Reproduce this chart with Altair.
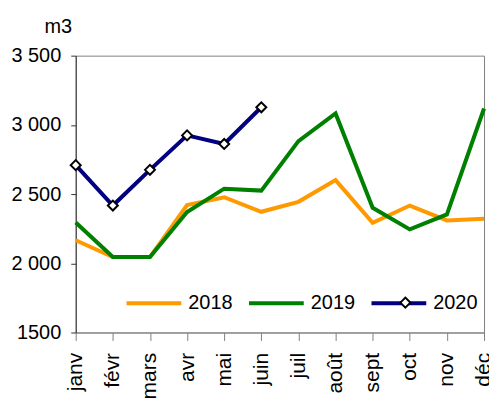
import altair as alt
import pandas as pd

months = ["janv", "févr", "mars", "avr", "mai", "juin", "juil", "août", "sept", "oct", "nov", "déc"]
v2018 = [2166, 2045, 2045, 2420, 2477, 2372, 2444, 2601, 2293, 2417, 2310, 2322]
v2019 = [2295, 2045, 2045, 2370, 2539, 2525, 2883, 3082, 2401, 2245, 2353, 3118]
v2020 = [2709, 2417, 2675, 2924, 2862, 3127]
years = ["2018", "2019", "2020"]
colors = ["#FF9900", "#008000", "#000080"]
y_ticks = [1500, 2000, 2500, 3000, 3500]
y_tick_labels = ["1500", "2 000", "2 500", "3 000", "3 500"]

rows = []
for yr, vals in zip(years, [v2018, v2019, v2020]):
    for m, v in zip(months, vals):
        rows.append({"mois": m, "annee": yr, "valeur": v})
df = pd.DataFrame(rows)

label_expr = "''"
for t, lab in zip(y_ticks, y_tick_labels):
    label_expr = f"datum.value == {t} ? '{lab}' : ({label_expr})"

FONT = "Liberation Sans"

x_enc = alt.X(
    "mois:N", sort=months,
    scale=alt.Scale(type="point", padding=0),
    axis=alt.Axis(title=None, labelAngle=270, labelAlign="right", labelBaseline="middle",
                  labelFontSize=21, labelFont=FONT, labelColor="black", labelPadding=12,
                  tickSize=8, tickColor="#808080", domainColor="#808080", grid=False),
)
y_enc = alt.Y(
    "valeur:Q",
    scale=alt.Scale(domain=[1500, 3500], nice=False, zero=False),
    axis=alt.Axis(values=y_ticks, labelExpr=label_expr, title="m3", titleAngle=0,
                  titleX=-18, titleY=-23, titleAlign="center", titleBaseline="alphabetic",
                  titleFontSize=20, titleFont=FONT, titleFontWeight="normal", titleColor="black",
                  labelFontSize=20, labelFont=FONT, labelColor="black", labelPadding=10,
                  tickSize=5, tickColor="#333333", domainColor="#333333", grid=False),
)

lines = alt.Chart(df).mark_line(strokeWidth=4).encode(
    x=x_enc, y=y_enc,
    color=alt.Color("annee:N", scale=alt.Scale(domain=years, range=colors),
                    legend=alt.Legend(orient="none", legendX=49, legendY=219, direction="horizontal",
                                      columns=3, title=None, symbolType="stroke", symbolSize=3025,
                                      symbolStrokeWidth=4, labelFontSize=20, labelFont=FONT,
                                      labelColor="black", labelOffset=5, columnPadding=8, zindex=0)),
)

diamond_legend = alt.Legend(orient="none", legendX=325, legendY=242, title=None,
                            symbolSize=100, symbolFillColor="white",
                            symbolStrokeWidth=2, symbolOpacity=1, labelExpr="''",
                            labelFontSize=1, labelOffset=0, zindex=5)

points = alt.Chart(df).transform_filter("datum.annee == '2020'").mark_point(
    filled=True, fill="white", strokeWidth=2, size=100, opacity=1
).encode(
    x=x_enc, y=y_enc,
    stroke=alt.Stroke("annee:N", scale=alt.Scale(domain=["2020"], range=["black"]),
                      legend=diamond_legend),
    shape=alt.Shape("annee:N", scale=alt.Scale(domain=["2020"], range=["diamond"]),
                    legend=diamond_legend),
)

chart = alt.layer(lines, points).properties(
    width=410, height=278,
    padding={"left": 68, "top": 47, "right": 5, "bottom": 80},
    autosize="none",
).configure_view(stroke="#808080", strokeWidth=1)

chart.save("out.html", embed_options={"renderer": "svg", "actions": False})
